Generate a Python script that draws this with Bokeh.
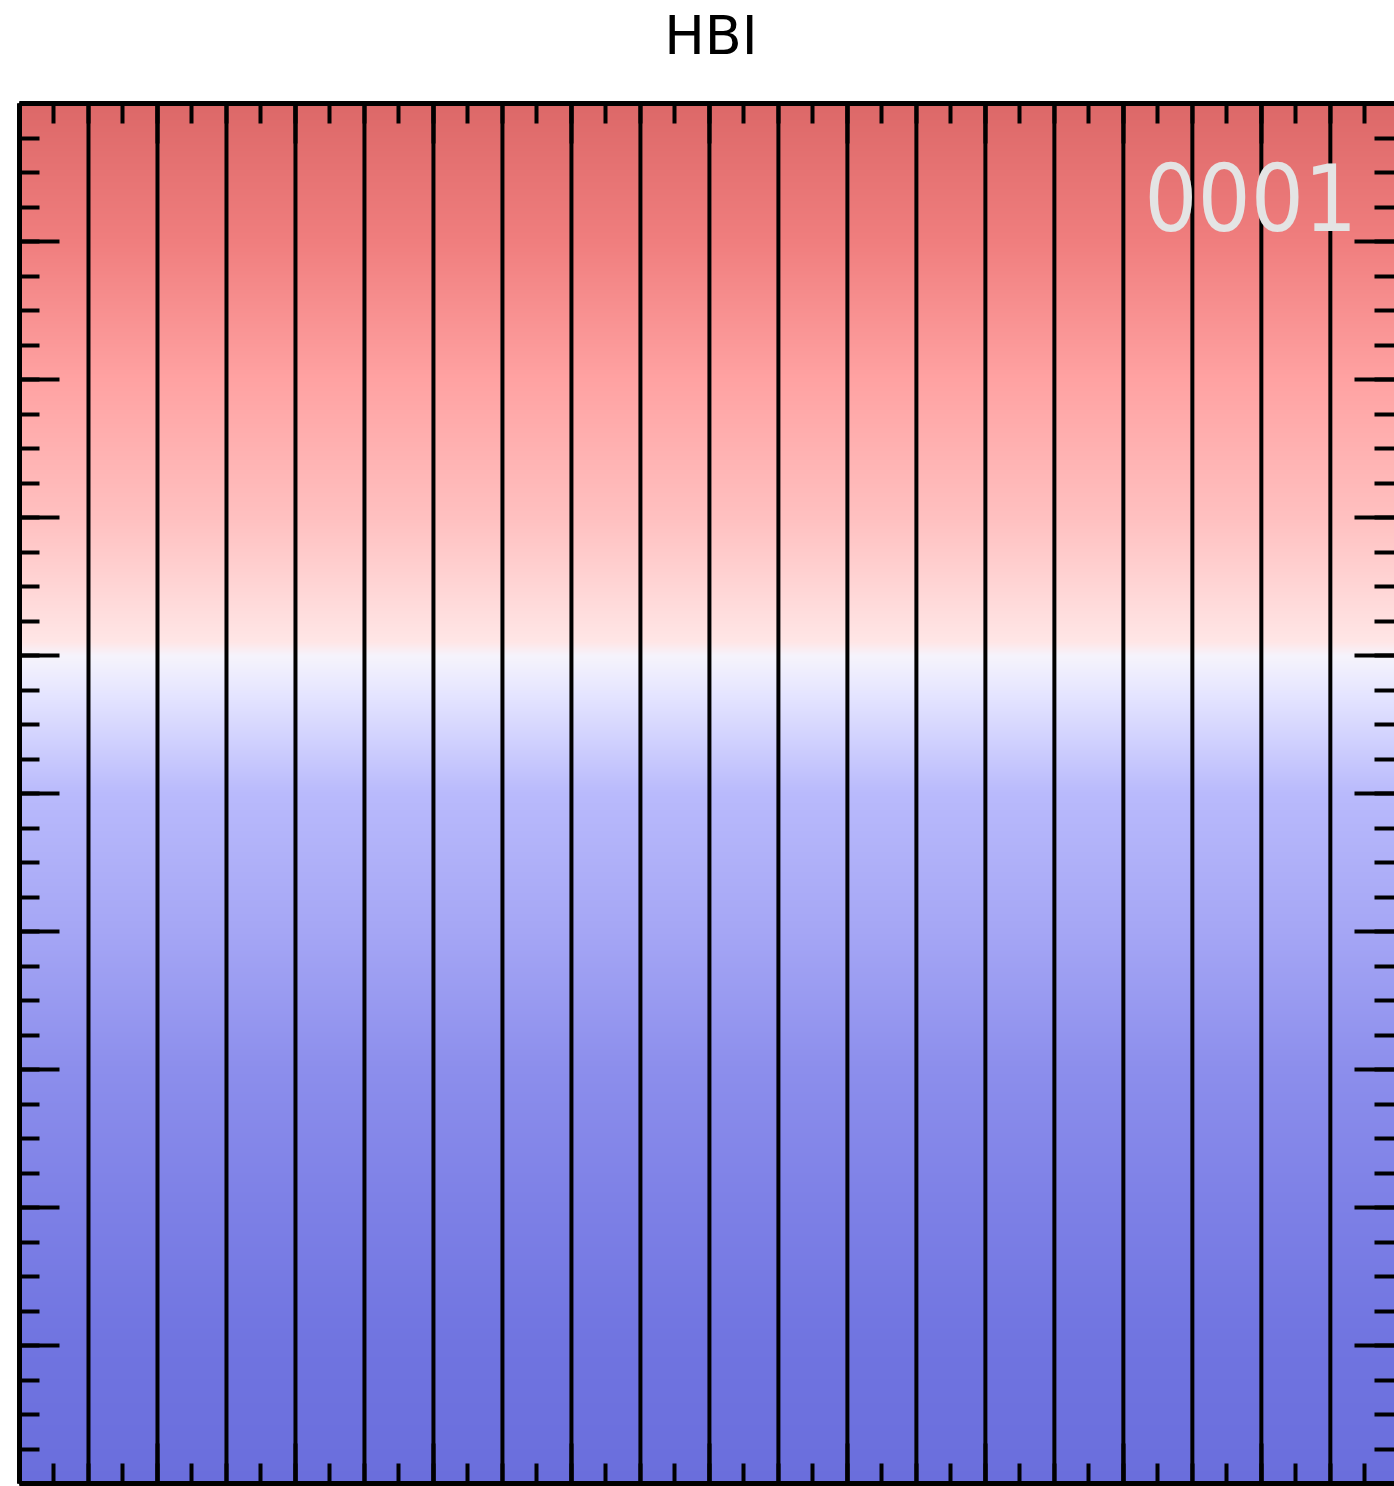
import numpy as np
from bokeh.plotting import figure
from bokeh.layouts import column
from bokeh.models import Label, LinearAxis, FixedTicker
from bokeh.embed import file_html
from bokeh.resources import INLINE

# Box: 20 x 10 (code units); only the left ~19.93 in x is shown
x_extent = 20.0
y_extent = 10.0
x_shown = 19.93

# Vertical magnetic field lines
field_line_x = [1, 2, 3, 4, 5, 6, 7, 8, 9, 10, 11, 12, 13, 14, 15, 16, 17, 18, 19]

# Temperature colour profile with height (colour stops)
stop_heights = [0.0, 1.0, 2.0, 3.0, 4.0, 5.0, 5.7, 6.0, 6.1, 7.0, 8.0, 9.0, 10.0]
stop_r = [106, 112, 125, 140, 165, 185, 228, 246, 255, 255, 255, 240, 220]
stop_g = [110, 116, 128, 142, 166, 186, 228, 244, 230, 192, 162, 126, 104]
stop_b = [220, 224, 230, 236, 245, 252, 255, 252, 230, 192, 162, 126, 104]

frame_label = "0001"
title_text = "HBI"

# Axis ticks
x_major = [0, 2, 4, 6, 8, 10, 12, 14, 16, 18, 20]
x_minor = [i * 0.5 for i in range(41)]
y_major = [0, 1, 2, 3, 4, 5, 6, 7, 8, 9, 10]
y_minor = [i * 0.25 for i in range(41)]

# Build the temperature image (rows run bottom -> top)
ny = 1380
h = (np.arange(ny) + 0.5) / ny * y_extent
img = np.empty((ny, 2), dtype=np.uint32)
view = img.view(dtype=np.uint8).reshape((ny, 2, 4))
for ch, stops in enumerate([stop_r, stop_g, stop_b]):
    view[:, :, ch] = np.interp(h, stop_heights, stops).round().astype(np.uint8)[:, None]
view[:, :, 3] = 255

# Title strip above the box (pixel-like coordinates)
head = figure(width=1394, height=100, x_range=(0, 1394), y_range=(0, 100),
              output_backend="svg", toolbar_location=None,
              x_axis_type=None, y_axis_type=None,
              min_border_left=0, min_border_right=0, min_border_top=0, min_border_bottom=0,
              background_fill_color="white", border_fill_color="white")
head.outline_line_color = None
head.grid.visible = False
head.add_layout(Label(x=701, y=65, text=title_text, text_align="center",
                      text_baseline="alphabetic", text_font="DejaVu Sans",
                      text_font_size="54px", text_color="black"))

p = figure(width=1394, height=1386, x_range=(0, x_shown), y_range=(0, y_extent),
           output_backend="svg", toolbar_location=None,
           min_border_left=19, min_border_right=0, min_border_top=3, min_border_bottom=3,
           background_fill_color="white", border_fill_color="white")
p.outline_line_color = None
p.grid.visible = False

p.image_rgba(image=[img], x=0, y=0, dw=x_extent, dh=y_extent)
p.segment(x0=field_line_x, y0=[0] * len(field_line_x), x1=field_line_x,
          y1=[y_extent] * len(field_line_x), line_color="black", line_width=4)

p.add_layout(LinearAxis(), "right")
p.add_layout(LinearAxis(), "above")


def style_axis(ax, major, minor, show_line=True):
    ax.ticker = FixedTicker(ticks=major, minor_ticks=minor)
    ax.major_tick_in = 40
    ax.major_tick_out = 0
    ax.minor_tick_in = 20
    ax.minor_tick_out = 0
    ax.major_tick_line_width = 4
    ax.minor_tick_line_width = 4
    ax.major_tick_line_color = "black"
    ax.minor_tick_line_color = "black"
    ax.axis_line_width = 5
    ax.axis_line_color = "black" if show_line else None
    ax.major_label_overrides = {t: "" for t in major}
    ax.major_label_text_font_size = "1px"
    ax.major_label_standoff = 0
    ax.axis_label = None


for ax in p.below + p.above:
    style_axis(ax, x_major, x_minor)
for ax in p.left:
    style_axis(ax, y_major, y_minor)
for ax in p.right:
    style_axis(ax, y_major, y_minor, show_line=False)

# Frame counter in the upper right
p.add_layout(Label(x=19.39, y=9.32, text=frame_label, text_align="right",
                   text_baseline="alphabetic", text_font="DejaVu Sans Condensed",
                   text_font_size="93px", text_color="#e4e4e4"))

layout = column(head, p, spacing=0)
open("out.html", "w").write(file_html(layout, INLINE))
